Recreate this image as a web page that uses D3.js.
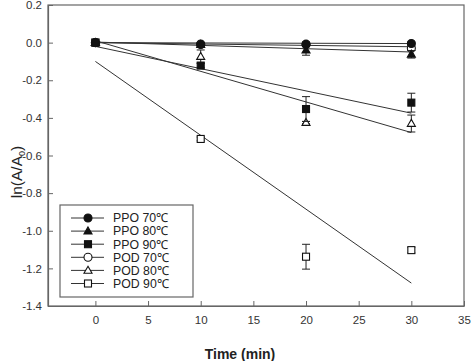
<!DOCTYPE html>
<html>
<head>
<meta charset="UTF-8">
<title>ln(A/A0) vs time</title>
<script src="https://cdn.jsdelivr.net/npm/d3@7"></script>
<style>
  body { margin: 0; background: #fff; }
  text { font-family: "Liberation Sans", Arial, sans-serif; }
</style>
</head>
<body>
<div id="grafica"></div>
<script>
// data
times = [0, 10, 20, 30]
seriesNames = ['PPO 70℃', 'PPO 80℃', 'PPO 90℃', 'POD 70℃', 'POD 80℃', 'POD 90℃']
ppo70 = [0, -0.01, -0.01, -0.005]
ppo80 = [0, -0.01, -0.04, -0.062]
ppo90 = [0, -0.122, -0.353, -0.319]
pod70 = [0, -0.007, -0.008, -0.03]
pod80 = [0, -0.074, -0.425, -0.43]
pod90 = [0, -0.512, -1.138, -1.103]
ppo70Err = [0, 0.008, 0.008, 0.008]
ppo80Err = [0, 0.006, 0.027, 0.02]
ppo90Err = [0, 0.012, 0.066, 0.05]
pod70Err = [0, 0.006, 0.012, 0.012]
pod80Err = [0, 0.035, 0.006, 0.045]
pod90Err = [0, 0.01, 0.066, 0.015]
// fitted lines, value at t=0 and at t=30
fitEnds = [[0, -0.005], [0.003, -0.05], [-0.02, -0.375], [0, -0.022], [0.01, -0.478], [-0.1, -1.278]]
fitTimes = [0, 30]
xTicks = [0, 5, 10, 15, 20, 25, 30, 35]
yTicks = [0.2, 0, -0.2, -0.4, -0.6, -0.8, -1.0, -1.2, -1.4]

values = [ppo70, ppo80, ppo90, pod70, pod80, pod90]
errs = [ppo70Err, ppo80Err, ppo90Err, pod70Err, pod80Err, pod90Err]
shapes = ['circle', 'triangle', 'square', 'circle', 'triangle', 'square']
filled = [true, true, true, false, false, false]

ancho = 473
alto = 361
m = {left: 48, right: 9, top: 5, bottom: 55}

svg = d3.select('#grafica').append('svg')
  .attr('width', ancho).attr('height', alto)

x = d3.scaleLinear().domain([-4.5, 35]).range([m.left, ancho - m.right])
y = d3.scaleLinear().domain([-1.4, 0.2]).range([alto - m.bottom, m.top])

axisColor = '#666'

// frame
svg.append('rect')
  .attr('x', m.left).attr('y', m.top)
  .attr('width', ancho - m.right - m.left).attr('height', alto - m.bottom - m.top)
  .attr('fill', 'none').attr('stroke', axisColor).attr('stroke-width', 1.2)

// axes with inward ticks
xAxis = svg.append('g')
  .attr('transform', 'translate(0,' + (alto - m.bottom) + ')')
  .call(d3.axisBottom(x).tickValues(xTicks).tickSizeInner(-5).tickSizeOuter(0).tickPadding(10))
yAxis = svg.append('g')
  .attr('transform', 'translate(' + m.left + ',0)')
  .call(d3.axisLeft(y).tickValues(yTicks).tickSizeInner(-5).tickSizeOuter(0).tickPadding(6)
    .tickFormat(d => d.toFixed(1)))

svg.selectAll('.domain').attr('stroke', axisColor).attr('stroke-width', 1.2)
svg.selectAll('.tick line').attr('stroke', axisColor)
svg.selectAll('.tick text').attr('fill', '#333').style('font-size', '11.5px')
  .style('font-family', '"Liberation Sans", Arial, sans-serif')

// axis titles
svg.append('text')
  .attr('x', 240).attr('y', 359)
  .attr('text-anchor', 'middle')
  .style('font-size', '14px').style('font-weight', 'bold').attr('fill', '#222')
  .text('Time (min)')

yt = svg.append('text')
  .attr('transform', 'translate(22,' + 172 + ') rotate(-90)')
  .attr('text-anchor', 'middle')
  .style('font-size', '15.5px').attr('fill', '#222')
yt.append('tspan').text('ln(A/A')
yt.append('tspan').attr('dy', 3).style('font-size', '9px').text('0')
yt.append('tspan').attr('dy', -3).text(')')

// fitted lines
line = d3.line().x(d => x(d[0])).y(d => y(d[1]))
fitEnds.forEach(function(f) {
  svg.append('path')
    .datum(fitTimes.map((t, i) => [t, f[i]]))
    .attr('d', line)
    .attr('fill', 'none').attr('stroke', '#333').attr('stroke-width', 1)
})

function drawSymbol(g, shape, fill, cx, cy) {
  var st = {fill: fill ? '#111' : '#fff', stroke: '#111'}
  if (shape == 'circle') {
    g.append('circle').attr('cx', cx).attr('cy', cy).attr('r', 4)
      .attr('fill', st.fill).attr('stroke', st.stroke).attr('stroke-width', 1.1)
  } else if (shape == 'square') {
    g.append('rect').attr('x', cx - 3.5).attr('y', cy - 3.5).attr('width', 7).attr('height', 7)
      .attr('fill', st.fill).attr('stroke', st.stroke).attr('stroke-width', 1.1)
  } else {
    g.append('path').attr('d', d3.symbol().type(d3.symbolTriangle).size(28)())
      .attr('transform', 'translate(' + cx + ',' + (cy + 0.5) + ')')
      .attr('fill', st.fill).attr('stroke', st.stroke).attr('stroke-width', 1.1)
  }
}

// error bars and points (drawn from last series to first so PPO sit on top)
for (var s = values.length - 1; s >= 0; s--) {
  var g = svg.append('g')
  times.forEach(function(t, i) {
    var e = errs[s][i]
    if (e > 0) {
      var px = x(t)
      g.append('line').attr('x1', px).attr('x2', px)
        .attr('y1', y(values[s][i] - e)).attr('y2', y(values[s][i] + e))
        .attr('stroke', '#222')
      ;[-e, e].forEach(function(d) {
        g.append('line').attr('x1', px - 4).attr('x2', px + 4)
          .attr('y1', y(values[s][i] + d)).attr('y2', y(values[s][i] + d))
          .attr('stroke', '#222')
      })
    }
    drawSymbol(g, shapes[s], filled[s], x(t), y(values[s][i]))
  })
}

// legend
leg = svg.append('g')
leg.append('rect').attr('x', 60).attr('y', 205).attr('width', 133).attr('height', 92)
  .attr('fill', '#fff').attr('stroke', axisColor).attr('stroke-width', 1.2)
seriesNames.forEach(function(n, i) {
  var ly = 218 + i * 13.1
  leg.append('line').attr('x1', 71).attr('x2', 104).attr('y1', ly).attr('y2', ly)
    .attr('stroke', '#333')
  drawSymbol(leg, shapes[i], filled[i], 88, ly)
  leg.append('text').attr('x', 113).attr('y', ly + 4.3)
    .style('font-size', '12.3px').attr('fill', '#222').text(n)
})
</script>
</body>
</html>
